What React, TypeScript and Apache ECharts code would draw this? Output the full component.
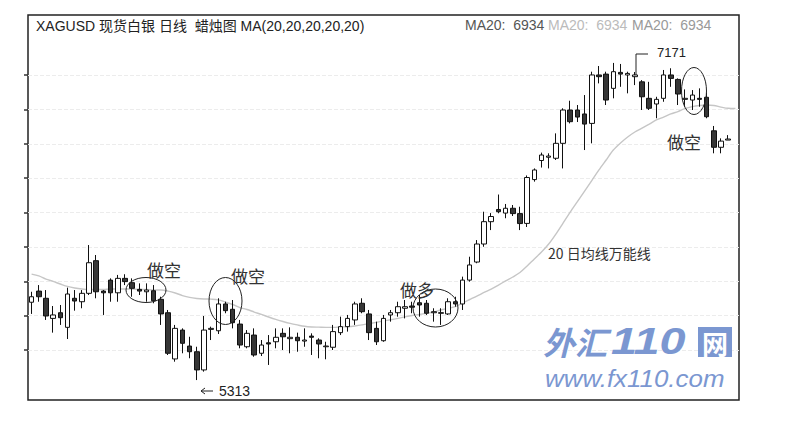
import { useEffect, useRef } from 'react';
import * as echarts from 'echarts';

// [open, close, low, high]
const candles: [number, number, number, number][] = [
  [5778, 5810, 5710, 5839], [5843, 5810, 5781, 5878], [5801, 5698, 5675, 5849], [5684, 5704, 5601, 5756],
  [5717, 5688, 5646, 5762], [5632, 5826, 5564, 5863], [5801, 5785, 5729, 5849], [5781, 5830, 5743, 5849],
  [5830, 6008, 5820, 6111], [6020, 5839, 5801, 6053], [5843, 5833, 5704, 5849], [5907, 5833, 5781, 5917],
  [5833, 5917, 5781, 5937], [5917, 5898, 5878, 5941], [5892, 5859, 5810, 5917], [5853, 5843, 5820, 5888],
  [5839, 5849, 5781, 5888], [5845, 5787, 5772, 5878], [5795, 5710, 5646, 5810], [5717, 5481, 5471, 5733],
  [5448, 5626, 5432, 5646], [5616, 5539, 5481, 5626], [5523, 5490, 5452, 5577], [5490, 5384, 5325, 5519],
  [5384, 5616, 5374, 5698], [5620, 5626, 5558, 5636], [5612, 5768, 5593, 5801], [5768, 5729, 5714, 5781],
  [5737, 5659, 5626, 5791], [5651, 5529, 5510, 5675], [5519, 5597, 5510, 5616], [5587, 5471, 5461, 5626],
  [5481, 5529, 5465, 5558], [5542, 5535, 5413, 5587], [5548, 5574, 5510, 5626], [5597, 5577, 5500, 5626],
  [5566, 5574, 5481, 5632], [5574, 5554, 5490, 5601], [5552, 5558, 5519, 5626], [5581, 5574, 5471, 5597],
  [5558, 5535, 5452, 5568], [5519, 5523, 5446, 5548], [5516, 5607, 5500, 5646], [5601, 5636, 5587, 5694],
  [5636, 5684, 5607, 5704], [5675, 5768, 5646, 5781], [5772, 5723, 5714, 5801], [5710, 5601, 5558, 5733],
  [5626, 5548, 5529, 5665], [5554, 5684, 5548, 5704], [5704, 5717, 5665, 5733], [5717, 5752, 5694, 5781],
  [5743, 5752, 5684, 5791], [5756, 5749, 5714, 5781], [5775, 5762, 5694, 5820], [5772, 5714, 5704, 5791],
  [5717, 5723, 5665, 5743], [5717, 5714, 5646, 5743], [5710, 5781, 5704, 5801], [5781, 5768, 5752, 5810],
  [5768, 5907, 5733, 5927], [5907, 5995, 5898, 6043], [6012, 6117, 6005, 6140], [6117, 6247, 6101, 6305],
  [6247, 6277, 6198, 6297], [6318, 6305, 6296, 6405], [6297, 6325, 6267, 6350], [6325, 6294, 6280, 6344],
  [6294, 6236, 6198, 6334], [6237, 6504, 6216, 6516], [6492, 6548, 6480, 6557], [6603, 6635, 6562, 6649],
  [6622, 6629, 6557, 6645], [6616, 6703, 6606, 6761], [6703, 6897, 6557, 6907], [6897, 6829, 6819, 6951],
  [6897, 6856, 6827, 6926], [6874, 6815, 6664, 6984], [6819, 7101, 6703, 7120], [7101, 7091, 7052, 7153],
  [7106, 6955, 6926, 7120], [7023, 7120, 6965, 7171], [7116, 7106, 7032, 7165], [7101, 7110, 6994, 7120],
  [7091, 7101, 7042, 7118], [7061, 6974, 6897, 7071], [6965, 6907, 6897, 7061], [6932, 6959, 6849, 6974],
  [6965, 7101, 6945, 7130], [7101, 7081, 7032, 7140], [7075, 6990, 6926, 7081], [6959, 6965, 6916, 7017],
  [6955, 6984, 6897, 7013], [6965, 6959, 6916, 7023], [6971, 6858, 6849, 6998], [6776, 6680, 6645, 6804],
  [6680, 6716, 6645, 6732], [6722, 6728, 6722, 6751],
];

// MA20 curve as drawn (one value per slot, last slot has no candle)
const ma20 = [
  5942, 5931, 5913, 5899, 5884, 5870, 5861, 5855, 5852, 5852,
  5852, 5855, 5855, 5855, 5855, 5852, 5852, 5849, 5849, 5843,
  5832, 5817, 5806, 5800, 5797, 5796, 5792, 5779, 5765, 5747,
  5736, 5721, 5707, 5692, 5678, 5666, 5655, 5646, 5638, 5634,
  5633, 5632, 5632, 5634, 5636, 5640, 5646, 5654, 5661, 5669,
  5676, 5684, 5693, 5701, 5707, 5714, 5721, 5733, 5742, 5752,
  5774, 5794, 5814, 5835, 5855, 5878, 5902, 5925, 5951, 5989,
  6030, 6070, 6117, 6175, 6239, 6303, 6364, 6425, 6486, 6548,
  6606, 6664, 6705, 6740, 6769, 6792, 6815, 6839, 6856, 6874,
  6888, 6906, 6917, 6923, 6926, 6923, 6914, 6907, 6906,
];

const days = ma20.map((_, i) => String(i + 1));
const yTicks = [5500, 5700, 5900, 6100, 6300, 6500, 6700, 6900, 7100];

const titleText = 'XAGUSD 现货白银 日线  蜡烛图 MA(20,20,20,20,20)';
const maLabels = ['MA20:  6934', 'MA20:  6934', 'MA20:  6934'];
const maLabelColors = ['#555', '#bbb', '#999'];

const UI_FONT = '"Liberation Sans", Arial, "Noto Sans CJK SC", sans-serif';
const CJK_FONT = '"Noto Sans CJK SC", sans-serif';
const BLUE = '#7b97d1';

export default function App() {
  const chartRef = useRef<HTMLDivElement>(null);

  useEffect(() => {
    if (!chartRef.current) return;
    document.body.style.margin = '0';
    const chart = echarts.init(chartRef.current, null, { renderer: 'svg' });

    const ellipse = (cx: number, cy: number, rx: number, ry: number) => ({
      type: 'ellipse',
      shape: { cx, cy, rx, ry },
      style: { fill: 'none', stroke: '#222', lineWidth: 1 },
      z: 100,
    });
    const note = (text: string, x: number, y: number, size = 17) => ({
      type: 'text',
      x,
      y,
      style: { text, fill: '#333', font: `${size}px ${CJK_FONT}`, verticalAlign: 'middle' },
      z: 100,
    });

    chart.setOption({
      animation: false,
      backgroundColor: '#fff',
      grid: {
        left: 28,
        right: 47,
        top: 15,
        bottom: 36,
        show: true,
        borderColor: '#222',
        borderWidth: 1.5,
        backgroundColor: '#fff',
      },
      xAxis: {
        type: 'category',
        data: days,
        boundaryGap: true,
        axisLine: { show: false },
        axisTick: { show: false },
        axisLabel: { show: false },
        splitLine: { show: false },
      },
      yAxis: {
        type: 'value',
        min: 5209,
        max: 7450,
        axisLine: { show: false },
        axisLabel: { show: false },
        axisTick: {
          show: true,
          length: 4,
          customValues: yTicks,
          lineStyle: { color: '#333', width: 1.5 },
        },
        splitLine: { show: false },
      },
      series: [
        {
          name: 'MA20',
          type: 'line',
          data: ma20,
          symbol: 'none',
          smooth: 0.3,
          lineStyle: { color: '#c6c6c6', width: 1.4 },
          z: 1,
        },
        {
          name: 'XAGUSD',
          type: 'candlestick',
          data: candles,
          barWidth: 5,
          itemStyle: {
            color: '#fff',
            color0: '#363636',
            borderColor: '#111',
            borderColor0: '#111',
            borderWidth: 1,
          },
          markLine: {
            silent: true,
            symbol: ['none', 'none'],
            label: { show: false },
            lineStyle: { color: '#ececec', type: 'dashed', width: 1 },
            data: yTicks.map((v) => ({ yAxis: v })),
            z: 0,
          },
          z: 2,
        },
      ],
      graphic: [
        {
          type: 'text',
          x: 36,
          y: 26,
          style: { text: titleText, fill: '#222', font: `14px ${UI_FONT}`, verticalAlign: 'middle' },
        },
        ...maLabels.map((t, i) => ({
          type: 'text',
          x: [465, 548, 632][i],
          y: 25,
          style: { text: t, fill: maLabelColors[i], font: `14px ${UI_FONT}`, verticalAlign: 'middle' },
        })),
        // 7171 marker
        {
          type: 'polyline',
          shape: { points: [[648, 54], [636, 54], [636, 75]] },
          style: { stroke: '#222', lineWidth: 1, fill: 'none' },
          z: 100,
        },
        {
          type: 'text',
          x: 657,
          y: 52,
          style: { text: '7171', fill: '#222', font: `13px ${UI_FONT}`, verticalAlign: 'middle' },
          z: 100,
        },
        // 5313 marker
        {
          type: 'line',
          shape: { x1: 201, y1: 391, x2: 213, y2: 391 },
          style: { stroke: '#222', lineWidth: 1 },
        },
        {
          type: 'polyline',
          shape: { points: [[205, 388], [201, 391], [205, 394]] },
          style: { stroke: '#222', lineWidth: 1, fill: 'none' },
        },
        {
          type: 'text',
          x: 219,
          y: 391,
          style: { text: '5313', fill: '#222', font: `14px ${UI_FONT}`, verticalAlign: 'middle' },
        },
        ellipse(146, 290, 20, 12.5),
        ellipse(225.5, 301, 16.5, 23.5),
        ellipse(435.5, 308, 22.5, 19),
        ellipse(694, 91, 12.5, 23.5),
        note('做空', 147, 269),
        note('做空', 231, 275),
        note('做多', 400, 289),
        note('做空', 667, 141),
        note('20 日均线万能线', 548, 253, 14),
        // watermark
        {
          type: 'text',
          x: 543,
          y: 341,
          style: {
            text: '外汇',
            fill: BLUE,
            font: `bold italic 32px ${CJK_FONT}`,
            lineHeight: 32,
            verticalAlign: 'middle',
          },
          z: 50,
        },
        {
          type: 'text',
          x: 611,
          y: 341,
          scaleX: 1.3,
          scaleY: 1.05,
          style: {
            text: '110',
            fill: BLUE,
            font: `bold italic 36px ${UI_FONT}`,
            lineHeight: 32,
            verticalAlign: 'middle',
          },
          z: 50,
        },
        {
          type: 'rect',
          shape: { x: 698, y: 327, width: 34, height: 30 },
          style: { fill: BLUE },
          z: 50,
        },
        {
          type: 'text',
          x: 715,
          y: 342,
          style: {
            text: '网',
            fill: '#fff',
            font: `bold 26px ${CJK_FONT}`,
            lineHeight: 26,
            align: 'center',
            verticalAlign: 'middle',
          },
          z: 51,
        },
        {
          type: 'text',
          x: 545,
          y: 378,
          scaleX: 1.08,
          style: {
            text: 'www.fx110.com',
            fill: BLUE,
            font: `italic 24px ${UI_FONT}`,
            lineHeight: 22,
            verticalAlign: 'middle',
          },
          z: 50,
        },
      ],
    });

    return () => chart.dispose();
  }, []);

  return <div ref={chartRef} style={{ width: 786, height: 436 }} />;
}
